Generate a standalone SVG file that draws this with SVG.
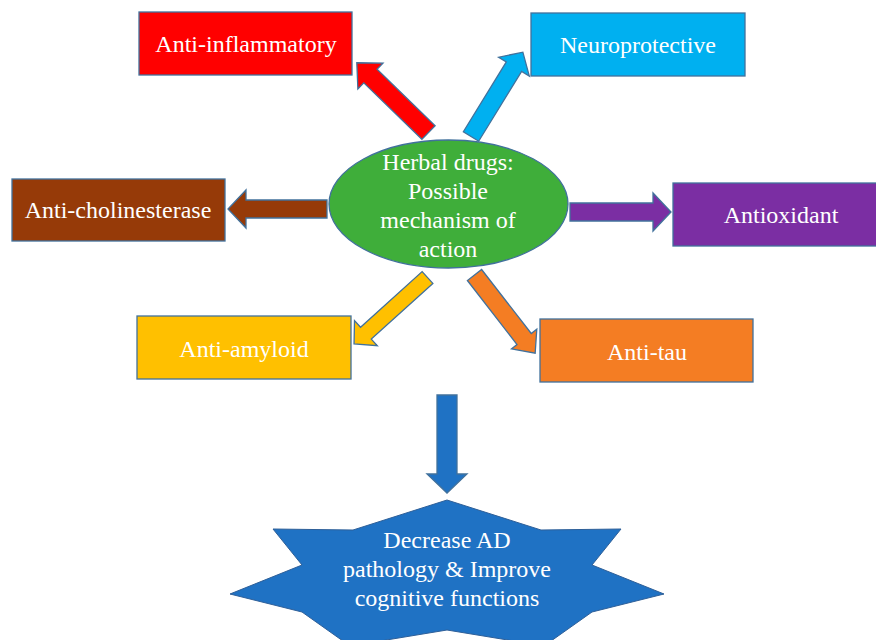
<svg xmlns="http://www.w3.org/2000/svg" width="876" height="640" viewBox="0 0 876 640">
<style>
.box{stroke:#41719c;stroke-width:1.3}
.arr{stroke:#41719c;stroke-width:1.3;stroke-linejoin:miter}
.t{font-size:24px;fill:#ffffff;text-anchor:middle}
</style>
<rect width="876" height="640" fill="#ffffff"/>
<g id="connectors">
<polygon class="arr" fill="#ff0000" transform="translate(428.5,132.5) rotate(-135.8)" points="0,-9.5 81,-9.5 81,-18 100,0 81,18 81,9.5 0,9.5"/>
<polygon class="arr" fill="#00b0f0" transform="translate(471,136.5) rotate(-58.4)" points="0,-9 82,-9 82,-18 99,0 82,18 82,9 0,9"/>
<polygon class="arr" fill="#963a08" transform="translate(327,209) rotate(180)" points="0,-9 81,-9 81,-19 99,0 81,19 81,9 0,9"/>
<polygon class="arr" fill="#7b2ea3" transform="translate(570,212)" points="0,-9 83,-9 83,-19 101,0 83,19 83,9 0,9"/>
<polygon class="arr" fill="#ffc000" transform="translate(427.5,277.5) rotate(137.9)" points="0,-8 83,-8 83,-17 99,0 83,17 83,8 0,8"/>
<polygon class="arr" fill="#f47d23" transform="translate(474.5,275) rotate(52.2)" points="0,-9 81,-9 81,-16 99,0 81,16 81,9 0,9"/>
<polygon class="arr" fill="#1f72c4" transform="translate(447,395) rotate(90)" points="0,-10 79,-10 79,-20 98,0 79,20 79,10 0,10"/>
</g>
<g font-family="'Liberation Serif', 'Times New Roman', 'DejaVu Serif', serif">
<g id="center">
<ellipse cx="448.5" cy="204" rx="119.5" ry="64" fill="#3fae3a" stroke="#41719c" stroke-width="1.3"/>
<text class="t" x="448" y="170">Herbal drugs:</text>
<text class="t" x="448" y="199">Possible</text>
<text class="t" x="448" y="228">mechanism of</text>
<text class="t" x="448" y="257">action</text>
</g>
<g id="anti-inflammatory">
<rect class="box" x="139" y="12" width="213" height="63" fill="#ff0000"/>
<text class="t" x="246" y="52">Anti-inflammatory</text>
</g>
<g id="neuroprotective">
<rect class="box" x="531" y="13" width="214" height="63" fill="#00b0f0"/>
<text class="t" x="638" y="53">Neuroprotective</text>
</g>
<g id="anti-cholinesterase">
<rect class="box" x="12" y="179" width="213" height="62" fill="#963a08"/>
<text class="t" x="118" y="218">Anti-cholinesterase</text>
</g>
<g id="antioxidant">
<rect class="box" x="673" y="183" width="216" height="63" fill="#7b2ea3"/>
<text class="t" x="781" y="223">Antioxidant</text>
</g>
<g id="anti-amyloid">
<rect class="box" x="137" y="316" width="214" height="63" fill="#ffc000"/>
<text class="t" x="244" y="357">Anti-amyloid</text>
</g>
<g id="anti-tau">
<rect class="box" x="540" y="319" width="213" height="63" fill="#f47d23"/>
<text class="t" x="647" y="360">Anti-tau</text>
</g>
<g id="outcome">
<polygon fill="#1f72c4" stroke="#2e5f98" stroke-width="1" points="447,500 541,530 621,529 592,565 664,594 592,612 544,646 447,630 350,646 302,612 230,594 302,565 273,529 353,530"/>
<text class="t" x="447" y="548">Decrease AD</text>
<text class="t" x="447" y="577">pathology &amp; Improve</text>
<text class="t" x="447" y="606">cognitive functions</text>
</g>
</g>
</svg>
